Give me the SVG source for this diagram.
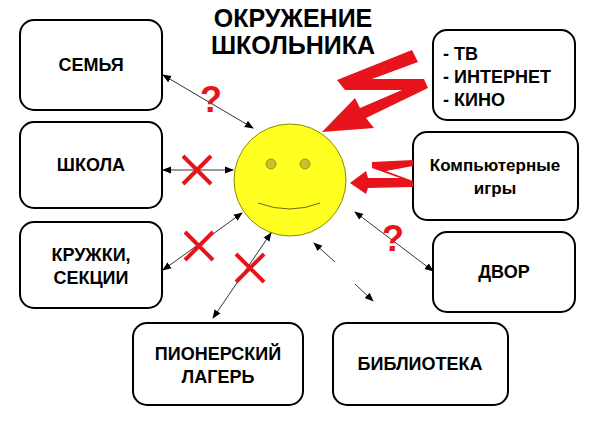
<svg xmlns="http://www.w3.org/2000/svg" width="600" height="424" viewBox="0 0 600 424">
<style>
.box{fill:#fff;stroke:#000;stroke-width:2}
.t{font-family:"Liberation Sans",Arial,sans-serif;font-weight:bold;font-size:18px;text-anchor:middle;fill:#000}
.ts{font-family:"Liberation Sans",Arial,sans-serif;font-weight:bold;font-size:18px;text-anchor:start;fill:#000}
.tt{font-family:"Liberation Sans",Arial,sans-serif;font-weight:bold;font-size:25px;text-anchor:middle;fill:#000}
.tg{font-family:"Liberation Sans",Arial,sans-serif;font-weight:bold;font-size:17px;text-anchor:middle;fill:#000}
.c{stroke:#000;stroke-width:0.8;fill:none;marker-start:url(#a);marker-end:url(#a)}
.x{stroke:#e8141b;stroke-width:4;fill:none}
.q{font-family:"Liberation Sans",Arial,sans-serif;font-weight:bold;font-size:36px;fill:#e8141b;text-anchor:middle}
.bolt{fill:#e8141b}
</style>
<defs>
<marker id="a" viewBox="0 0 10 10" refX="9" refY="5" markerWidth="9" markerHeight="9" orient="auto-start-reverse" markerUnits="userSpaceOnUse"><path d="M0,1 L10,5 L0,9 z" fill="#000"/></marker>
</defs>
<rect width="600" height="424" fill="#fff"/>
<g id="title"><text class="tt" x="293" y="27">ОКРУЖЕНИЕ</text><text class="tt" x="293" y="54">ШКОЛЬНИКА</text></g>
<g id="n-family"><rect class="box" x="20" y="20" width="142" height="90" rx="14"/><text class="t" x="91" y="71">СЕМЬЯ</text></g>
<g id="n-school"><rect class="box" x="20" y="122" width="142" height="86" rx="14"/><text class="t" x="91" y="171">ШКОЛА</text></g>
<g id="n-clubs"><rect class="box" x="20" y="222" width="142" height="86" rx="14"/><text class="t" x="91" y="261">КРУЖКИ,</text><text class="t" x="91" y="284">СЕКЦИИ</text></g>
<g id="n-camp"><rect class="box" x="133" y="323" width="170" height="82" rx="14"/><text class="t" x="218" y="360">ПИОНЕРСКИЙ</text><text class="t" x="218" y="383">ЛАГЕРЬ</text></g>
<g id="n-library"><rect class="box" x="333" y="323" width="175" height="82" rx="14"/><text class="t" x="420" y="370">БИБЛИОТЕКА</text></g>
<g id="n-yard"><rect class="box" x="433" y="232" width="142" height="80" rx="14"/><text class="t" x="504" y="278">ДВОР</text></g>
<g id="n-games"><rect class="box" x="413" y="132" width="165" height="88" rx="14"/><text class="tg" x="495" y="171">Компьютерные</text><text class="tg" x="495" y="194">игры</text></g>
<g id="n-media"><rect class="box" x="433" y="30" width="142" height="90" rx="14"/><text class="ts" x="443" y="60">- ТВ</text><text class="ts" x="443" y="83">- ИНТЕРНЕТ</text><text class="ts" x="443" y="106">- КИНО</text></g>
<g id="n-child"><circle cx="290" cy="180" r="56" fill="#ffff22" stroke="#8a8a00" stroke-width="1"/><circle cx="271" cy="164" r="5" fill="#c8c030" stroke="#8a8a00" stroke-width="0.8"/><circle cx="305" cy="164" r="5" fill="#c8c030" stroke="#8a8a00" stroke-width="0.8"/><path d="M258,203 Q290,215 320,203" fill="none" stroke="#6a6a00" stroke-width="1"/></g>
<g id="connectors">
<line class="c" x1="163" y1="75" x2="253" y2="128"/>
<line class="c" x1="163" y1="170" x2="233" y2="170"/>
<line class="c" x1="163" y1="270" x2="242" y2="213"/>
<line class="c" x1="213" y1="318" x2="271" y2="233"/>
<line class="c" x1="355" y1="212" x2="433" y2="271"/>
<line stroke="#000" stroke-width="0.8" x1="335" y1="262" x2="314" y2="243" marker-end="url(#a)"/>
<line stroke="#000" stroke-width="0.8" x1="355" y1="284" x2="373" y2="301" marker-end="url(#a)"/>
<path class="bolt" d="M412,50 L337,80 L345,90 L402,90 L360,108 L355,98 L322,132 L374,128 L366,118 L428,88 L424,79 L372,79 L418,62 Z"/>
<path class="bolt" d="M413,160 L372,162 L372,168 L400,178 L368,178 L366,171 L350,183 L366,194 L368,188 L413,187 L413,181 L386,171 L413,166 Z"/>
<g class="x"><path d="M183,156 L211,184 M211,156 L183,184"/><path d="M185,232 L213,260 M213,232 L185,260"/><path d="M236,254 L264,282 M264,254 L236,282"/></g>
<text class="q" x="211" y="112">?</text>
<text class="q" x="393" y="251">?</text>
</g>
</svg>
